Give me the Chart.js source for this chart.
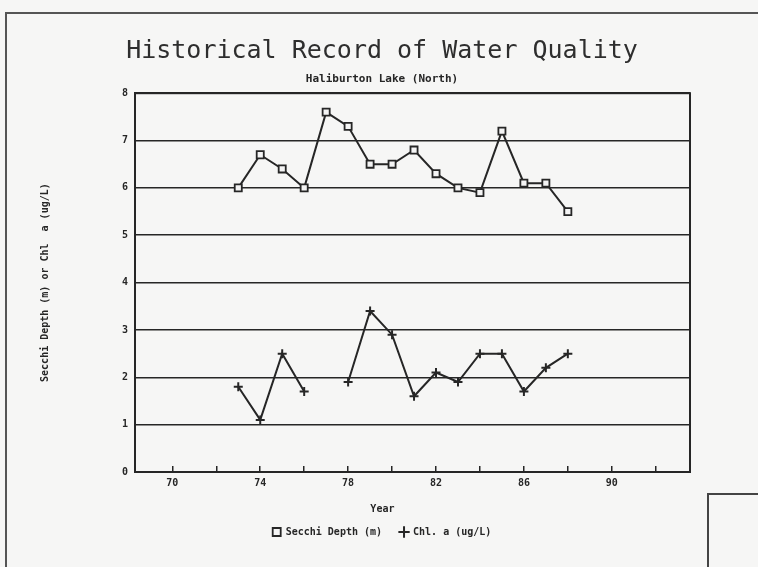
<!DOCTYPE html>
<html>
<head>
<meta charset="utf-8">
<title>Historical Record of Water Quality</title>
<script src="https://cdn.jsdelivr.net/npm/chart.js@4.4.1/dist/chart.umd.min.js"></script>
<style>
  html, body { margin: 0; padding: 0; background: #f6f6f5; }
  #wrap { position: relative; width: 758px; height: 567px; overflow: hidden; }
  #wrap canvas { position: absolute; left: 0; top: 0; }
  /* edges of the scanned sheet */
  .sheet { position: absolute; left: 5px; top: 12px; width: 800px; height: 600px;
           border-top: 2px solid #555; border-left: 2px solid #555; }
  .tag { position: absolute; left: 707px; top: 493px; width: 80px; height: 100px;
         border-top: 2px solid #444; border-left: 2px solid #444; }
</style>
</head>
<body>
<div id="wrap">
  <div class="sheet"></div>
  <div class="tag"></div>
  <canvas id="wq" width="758" height="567"></canvas>
</div>
<script>
// Valeurs
const years = [73, 74, 75, 76, 77, 78, 79, 80, 81, 82, 83, 84, 85, 86, 87, 88];
const secchi = [6.0, 6.7, 6.4, 6.0, 7.6, 7.3, 6.5, 6.5, 6.8, 6.3, 6.0, 5.9, 7.2, 6.1, 6.1, 5.5];
const chlA = [1.8, 1.1, 2.5, 1.7, null, 1.9, 3.4, 2.9, 1.6, 2.1, 1.9, 2.5, 2.5, 1.7, 2.2, 2.5];
const yearLabels = [70, 74, 78, 82, 86, 90];

const INK = '#262626';
const mono = 'DejaVu Sans Mono';

// Cadre autour de la zone de tracé
const frame = {
  id: 'frame',
  afterDatasetsDraw(chart) {
    const { ctx, chartArea: a } = chart;
    ctx.save();
    ctx.strokeStyle = INK;
    ctx.lineWidth = 2;
    ctx.strokeRect(a.left, a.top, a.right - a.left, a.bottom - a.top);
    ctx.restore();
  }
};

const toPoints = (vals) => years.map((yr, i) => ({ x: yr, y: vals[i] }));

new Chart(document.getElementById('wq'), {
  type: 'line',
  data: {
    datasets: [{
      label: 'Secchi Depth (m)',
      data: toPoints(secchi),
      borderColor: INK,
      borderWidth: 2,
      pointStyle: 'rect',
      pointRadius: 5,
      pointBorderWidth: 1.8,
      pointBackgroundColor: '#f4f4f4',
      pointBorderColor: INK,
      tension: 0
    }, {
      label: 'Chl. a (ug/L)',
      data: toPoints(chlA),
      borderColor: INK,
      borderWidth: 2,
      pointStyle: 'cross',
      pointRadius: 4.5,
      pointBorderWidth: 2,
      pointBorderColor: INK,
      spanGaps: false,
      tension: 0
    }]
  },
  options: {
    responsive: false,
    animation: false,
    layout: { padding: { left: 74, right: 68, top: 0, bottom: 20 } },
    plugins: {
      title: {
        display: true,
        text: 'Historical Record of Water Quality',
        color: '#2e2e2e',
        font: { family: mono, size: 25, weight: 'normal', lineHeight: 1.2 },
        padding: { top: 36, bottom: 4 }
      },
      subtitle: {
        display: true,
        text: 'Haliburton Lake (North)',
        color: INK,
        font: { family: mono, size: 11, weight: 'bold', lineHeight: 1.2 },
        padding: { top: 3, bottom: 7 }
      },
      legend: {
        position: 'bottom',
        labels: {
          usePointStyle: true,
          boxWidth: 8,
          boxHeight: 8,
          padding: 18,
          color: INK,
          font: { family: mono, size: 10, weight: 'bold' }
        }
      },
      tooltip: { enabled: false }
    },
    scales: {
      x: {
        type: 'linear',
        min: 68.3,
        max: 93.56,
        afterFit: (scale) => { scale.height = 37; },
        ticks: {
          stepSize: 2,
          includeBounds: false,
          padding: 11,
          color: INK,
          font: { family: mono, size: 10, weight: 'bold' },
          callback: (v) => yearLabels.includes(v) ? String(v) : ''
        },
        grid: { drawOnChartArea: false, drawTicks: true, tickLength: -6, color: INK, lineWidth: 1.5 },
        border: { color: INK, width: 2 },
        title: {
          display: true,
          text: 'Year          ',
          color: INK,
          font: { family: mono, size: 10, weight: 'bold' },
          padding: { top: 0, bottom: -6 }
        }
      },
      y: {
        min: 0,
        max: 8,
        afterFit: (scale) => { scale.width = 61; },
        ticks: {
          stepSize: 1,
          padding: 7,
          color: INK,
          font: { family: mono, size: 10, weight: 'bold' }
        },
        grid: { drawTicks: false, color: INK, lineWidth: 1.6 },
        border: { color: INK, width: 2 },
        title: {
          display: true,
          text: 'Secchi Depth (m) or Chl  a (ug/L)',
          color: INK,
          font: { family: mono, size: 10, weight: 'bold' },
          padding: { top: -35, bottom: 0 }
        }
      }
    }
  },
  plugins: [frame]
});
</script>
</body>
</html>
